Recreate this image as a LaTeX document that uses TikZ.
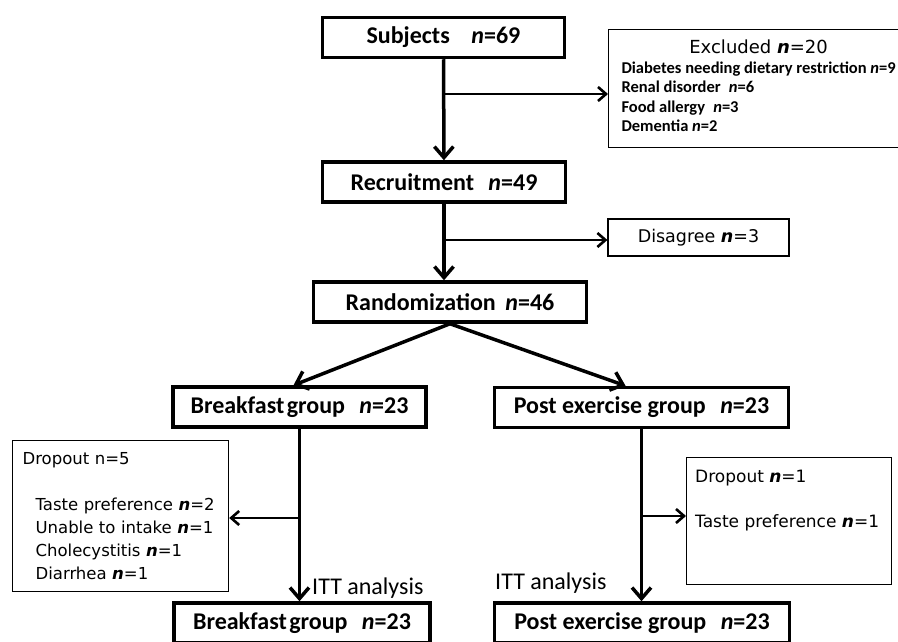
\documentclass[tikz,border=0pt]{standalone}
\usepackage{fontspec}
\setmainfont{Carlito}
\newfontfamily\gothic{DejaVu Sans}
\usetikzlibrary{arrows.meta}

\tikzstyle{block} = [draw, text centered, minimum height = 40pt, line width = 3.5pt, font = \fontsize{24}{28}\selectfont\bfseries]
\tikzstyle{note} = [draw, line width = 1.2pt, font = \gothic\fontsize{17.5}{22}\selectfont]
\tikzstyle{gtext} = [inner sep = 0pt, font = \gothic\fontsize{17}{22}\selectfont]
\tikzstyle{flow} = [-{Straight Barb[length = 11pt, width = 19pt]}, line width = 3.5pt]
\tikzstyle{branch} = [-{Straight Barb[length = 8pt, width = 14pt]}, line width = 2.6pt]
\newcommand{\nv}[1]{\textbf{\textit{n}}=#1}

\begin{document}
\begin{tikzpicture}[x = 1pt, y = -1pt]
		\useasboundingbox (0, 0) rectangle (898, 642);
		\node [block, minimum width = 242pt] at (443.5, 37.5) (subj) {Subjects\hspace{0.9em}\nv{69}};
		\node [block, minimum width = 243pt] at (444, 182) (recr) {Recruitment\hspace{0.6em}\nv{49}};
		\node [block, minimum width = 273pt] at (450, 302) (rand) {Randomization\hspace{0.4em}\nv{46}};
		\node [block, minimum width = 253pt] at (299.5, 407) (bf) {Breakfast\hspace{0.1em}group\hspace{0.6em}\nv{23}};
		\node [block, minimum width = 294pt] at (641.5, 407.5) (pe) {Post exercise group\hspace{0.6em}\nv{23}};
		\node [block, minimum width = 256pt] at (302, 623) (bfitt) {Breakfast\hspace{0.1em}group\hspace{0.6em}\nv{23}};
		\node [block, minimum width = 295pt] at (642, 623) (peitt) {Post exercise group\hspace{0.6em}\nv{23}};

		\node [note, anchor = north west, minimum width = 300pt, minimum height = 118pt, inner xsep = 10pt, font = \fontsize{16.5}{19.5}\selectfont\bfseries] at (608, 29) (excl) {\begin{tabular}{@{}l@{}}
			\multicolumn{1}{@{}c@{}}{\gothic\mdseries\fontsize{18}{20}\selectfont Excluded \nv{20}}\\
			Diabetes needing dietary restriction \nv{9}\\
			Renal disorder\hspace{0.5em}\nv{6}\\
			Food allergy\hspace{0.5em}\nv{3}\\
			Dementia \nv{2}
		\end{tabular}};
		\node [note, minimum width = 181pt, minimum height = 37pt] at (698.5, 237.5) (dis) {Disagree \nv{3}};
		\node [note, anchor = north west, text width = 196pt, minimum height = 151pt, inner xsep = 10pt, align = left, font = \gothic\fontsize{16.5}{23}\selectfont] at (12, 440) (dropbf) {Dropout n=5\\[23pt]
			\hspace*{13pt}Taste preference \nv{2}\\
			\hspace*{13pt}Unable to intake \nv{1}\\
			\hspace*{13pt}Cholecystitis \nv{1}\\
			\hspace*{13pt}Diarrhea \nv{1}};
		\node [note, anchor = north west, minimum width = 205pt, minimum height = 127pt] at (686, 457) (droppe) {};
		\node [gtext, anchor = base west] at (695, 482) (droppe1) {Dropout \nv{1}};
		\node [gtext, anchor = base west] at (695, 527) (droppe2) {Taste preference \nv{1}};

		\node [inner sep = 0pt, anchor = west, font = \fontsize{24}{28}\selectfont] at (312, 588) (ittbf) {ITT analysis};
		\node [inner sep = 0pt, anchor = west, font = \fontsize{24}{28}\selectfont] at (495, 583) (ittpe) {ITT analysis};

		\draw [flow] (subj) -- (recr);
		\draw [flow] (recr) -- (recr.south |- rand.north);
		\draw [flow] (rand.south) -- ([xshift = -6pt]bf.north);
		\draw [flow] (rand.south) -- ([xshift = -16pt]pe.north);
		\draw [flow] (bf) -- (bf.south |- bfitt.north);
		\draw [flow] (pe) -- (pe.south |- peitt.north);

		\coordinate (s1) at (443.5, 94);
		\coordinate (s2) at (444, 240);
		\coordinate (s3) at (299.5, 518);
		\coordinate (s4) at (641.5, 516);
		\draw [branch] (s1) -- (s1 -| excl.west);
		\draw [branch] (s2) -- (s2 -| dis.west);
		\draw [branch] (s3) -- (s3 -| dropbf.east);
		\draw [branch] (s4) -- (s4 -| droppe.west);
	\end{tikzpicture}
\end{document}
